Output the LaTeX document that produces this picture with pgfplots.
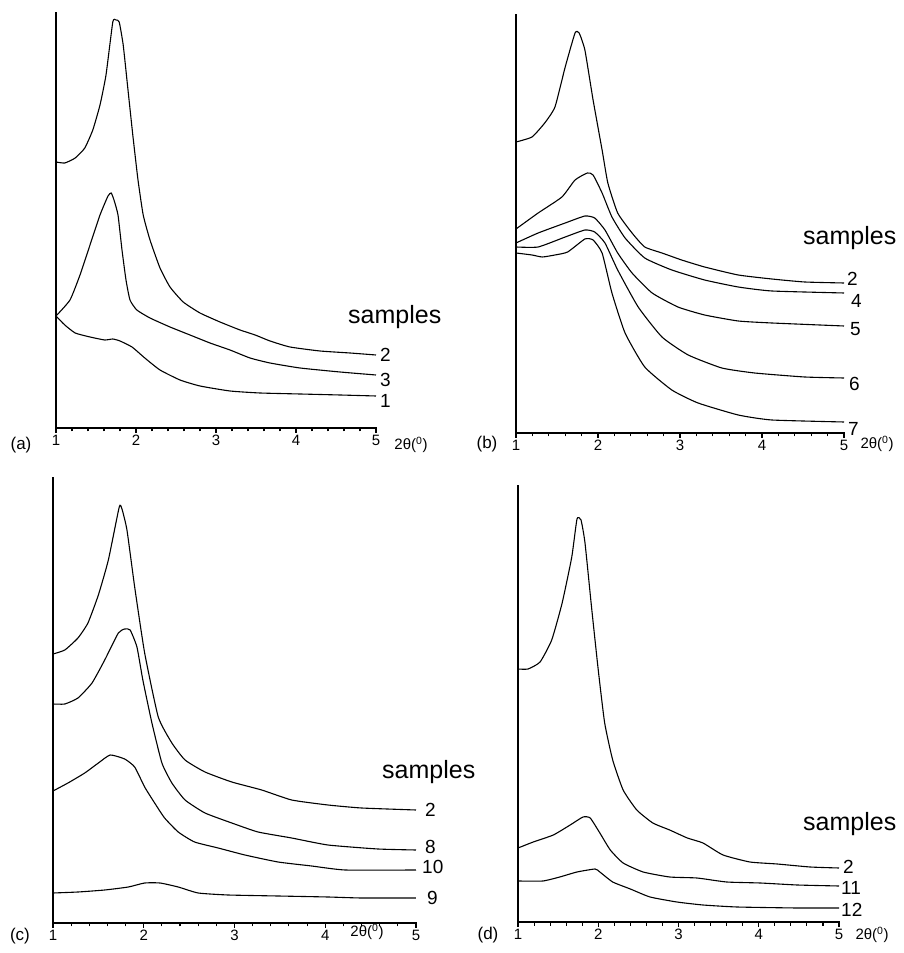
\documentclass[border=0pt]{standalone}
\usepackage{fontspec}
\setmainfont{Liberation Sans}
\usepackage{pgfplots}
\pgfplotsset{compat=1.18}
\pgfplotsset{
  panel/.style={
    scale only axis,
    anchor=south west,
    xmin=1, xmax=5, ymin=0,
    axis line style={draw=none},
    ytick=\empty,
    xtick={1,2,3,4,5},
    xtick pos=bottom,
    minor x tick num=4,
    tick align=outside,
    major tick length=5pt, minor tick length=3.5pt,
    every tick/.style={black, line width=1.1pt},
    /pgf/number format/assume math mode=true,
    xticklabel style={font=\fontsize{15}{17}\selectfont, inner sep=2pt},
    clip=false,
    every axis plot post/.append style={black, line width=1.1pt, mark=none, smooth, tension=0.3},
    execute at end axis={\draw[line width=1.8pt, line cap=rect] (rel axis cs:0,1) -- (rel axis cs:0,0) -- (rel axis cs:1,0);},
  }
}
\begin{document}
\begin{tikzpicture}[x=1pt,y=1pt]
\useasboundingbox (0pt,0pt) rectangle (904pt,953pt);

% ---------------- (a) ----------------
\begin{axis}[panel, at={(56pt,525pt)}, width=320pt, height=415pt, ymax=415]
\addplot coordinates {(1.00,266) (1.11,265) (1.24,270) (1.36,280) (1.46,298) (1.55,323) (1.625,353) (1.71,406) (1.75,408) (1.79,406) (1.84,383) (1.90,338) (1.96,293) (2.025,248) (2.09,213) (2.175,188) (2.30,160) (2.425,141) (2.59,126) (2.80,115) (3.05,106) (3.30,98) (3.49,93) (3.675,87) (3.925,81) (4.30,77) (4.675,75) (5.00,73)};
\addplot coordinates {(1.00,112) (1.175,128) (1.30,153) (1.425,183) (1.55,213) (1.65,232) (1.69,235) (1.725,228) (1.775,213) (1.825,178) (1.875,148) (1.925,128) (2.01,118) (2.175,110) (2.425,101) (2.675,93) (2.925,85) (3.175,78) (3.425,70) (3.675,65) (4.05,60) (4.55,56) (5.00,53)};
\addplot coordinates {(1.00,112) (1.11,103) (1.24,95) (1.425,91) (1.61,88) (1.71,89) (1.80,87) (1.95,81) (2.11,70) (2.30,58) (2.55,48) (2.80,42) (3.175,37) (3.55,35) (4.05,34) (4.55,33) (5.00,32)};
\end{axis}

% ---------------- (b) ----------------
\begin{axis}[panel, at={(516pt,520pt)}, width=328pt, height=418pt, ymax=418]
\addplot coordinates {(1.00,291) (1.195,296) (1.35,310) (1.475,326) (1.60,366) (1.72,400) (1.77,400) (1.84,383) (1.94,333) (2.05,283) (2.12,250) (2.24,220) (2.415,200) (2.57,186) (2.78,180) (3.02,173) (3.30,166) (3.71,158) (4.12,154) (4.52,151) (5.00,150)};
\addplot coordinates {(1.00,204) (1.27,220) (1.56,236) (1.72,253) (1.87,260) (1.94,258) (2.05,240) (2.17,216) (2.33,195) (2.57,175) (2.90,163) (3.30,153) (3.71,146) (4.12,142) (5.00,140)};
\addplot coordinates {(1.00,190) (1.27,200) (1.60,210) (1.84,217) (1.96,215) (2.085,203) (2.24,180) (2.415,160) (2.66,140) (2.975,126) (3.30,118) (3.71,112) (4.12,110) (5.00,107)};
\addplot coordinates {(1.00,186) (1.27,186) (1.60,196) (1.84,203) (1.96,201) (2.085,190) (2.24,163) (2.49,126) (2.78,96) (3.10,78) (3.51,65) (3.91,60) (4.52,56) (5.00,55)};
\addplot coordinates {(1.00,180) (1.195,178) (1.32,176) (1.475,178) (1.63,181) (1.84,194) (1.94,193) (2.05,180) (2.17,140) (2.33,100) (2.57,66) (2.90,43) (3.22,30) (3.71,18) (4.12,13) (5.00,11)};
\end{axis}

% ---------------- (c) ----------------
\begin{axis}[panel, at={(53pt,30pt)}, width=363pt, height=445pt, ymax=445]
\addplot coordinates {(1.00,269) (1.13,273) (1.275,285) (1.385,300) (1.50,328) (1.61,363) (1.73,416) (1.76,414) (1.815,393) (1.90,336) (2.01,270) (2.16,206) (2.31,180) (2.455,163) (2.675,151) (2.97,141) (3.30,133) (3.63,123) (4.03,118) (4.40,115) (5.00,113)};
\addplot coordinates {(1.00,219) (1.13,219) (1.275,225) (1.43,240) (1.57,263) (1.72,290) (1.79,294) (1.85,293) (1.925,276) (1.99,243) (2.09,200) (2.20,160) (2.31,140) (2.455,123) (2.675,110) (2.97,100) (3.26,91) (3.63,85) (4.03,78) (4.58,74) (5.00,73)};
\addplot coordinates {(1.00,132) (1.165,140) (1.35,150) (1.50,160) (1.63,168) (1.79,164) (1.90,156) (2.01,136) (2.12,120) (2.23,105) (2.38,91) (2.56,81) (2.82,75) (3.115,68) (3.48,61) (3.85,57) (4.22,53) (5.00,53)};
\addplot coordinates {(1.00,30) (1.275,31) (1.57,33) (1.83,36) (2.01,40) (2.18,40) (2.38,36) (2.60,30) (2.93,28) (3.48,27) (4.03,26) (4.40,25) (5.00,25)};
\end{axis}

% ---------------- (d) ----------------
\begin{axis}[panel, at={(518pt,31pt)}, width=321pt, height=436pt, ymax=436]
\addplot coordinates {(1.00,253) (1.125,253) (1.275,260) (1.42,282) (1.55,319) (1.67,365) (1.735,403) (1.785,402) (1.835,379) (1.92,312) (2.00,252) (2.08,199) (2.18,162) (2.31,132) (2.48,112) (2.68,99) (2.89,92) (3.11,84) (3.305,79) (3.555,67) (3.89,60) (4.23,58) (4.64,55) (5.00,54)};
\addplot coordinates {(1.00,74) (1.19,80) (1.44,87) (1.65,97) (1.81,105) (1.90,104) (2.02,89) (2.15,72) (2.31,59) (2.56,50) (2.89,45) (3.23,44) (3.60,40) (4.02,39) (4.48,37) (5.00,36)};
\addplot coordinates {(1.00,41) (1.31,41) (1.52,45) (1.735,50) (1.96,53) (2.02,50) (2.18,40) (2.40,33) (2.645,25) (2.98,20) (3.305,17) (3.73,15) (4.48,14) (5.00,14)};
\end{axis}

% ---------------- labels ----------------
\tikzset{lab/.style={anchor=west, inner sep=0pt, font=\fontsize{19}{21}\selectfont},
         smp/.style={anchor=west, inner sep=0pt, font=\fontsize{25}{28}\selectfont},
         pan/.style={inner sep=0pt, font=\fontsize{17}{19}\selectfont},
         tth/.style={inner sep=0pt, font=\fontsize{15}{17}\selectfont}}
% (a)
\node[smp] at (348pt,636pt) {samples};
\node[lab] at (380pt,598pt) {2};
\node[lab] at (380pt,573pt) {3};
\node[lab] at (380pt,552pt) {1};
\node[pan] at (21pt,508pt) {(a)};
\node[tth] at (411pt,508pt) {2θ(\textsuperscript{0})};
% (b)
\node[smp] at (803pt,715pt) {samples};
\node[lab] at (847pt,674pt) {2};
\node[lab] at (851pt,652pt) {4};
\node[lab] at (850pt,624pt) {5};
\node[lab] at (849pt,569pt) {6};
\node[lab] at (848pt,524pt) {7};
\node[pan] at (487pt,509pt) {(b)};
\node[tth] at (877pt,509pt) {2θ(\textsuperscript{0})};
% (c)
\node[smp] at (382pt,181pt) {samples};
\node[lab] at (425pt,143pt) {2};
\node[lab] at (425pt,106pt) {8};
\node[lab] at (422pt,86pt) {10};
\node[lab] at (427pt,55pt) {9};
\node[pan] at (20pt,17pt) {(c)};
\node[tth] at (367pt,21pt) {2θ(\textsuperscript{0})};
% (d)
\node[smp] at (803pt,129pt) {samples};
\node[lab] at (843pt,86pt) {2};
\node[lab] at (841pt,65pt) {11};
\node[lab] at (841pt,43pt) {12};
\node[pan] at (488pt,18pt) {(d)};
\node[tth] at (872pt,18pt) {2θ(\textsuperscript{0})};
\end{tikzpicture}
\end{document}
